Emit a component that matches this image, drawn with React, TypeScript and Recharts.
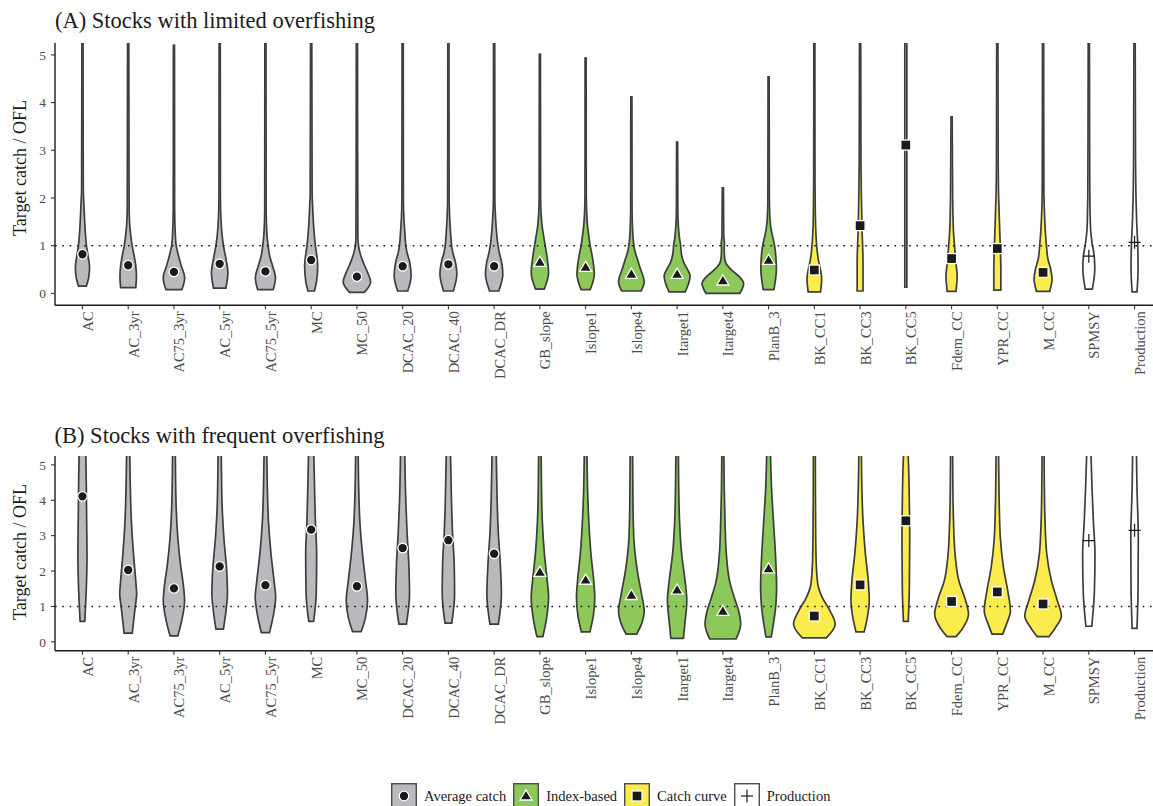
import React from 'react';
import { Area, ComposedChart, ReferenceLine, Scatter, XAxis, YAxis } from 'recharts';

// knot = [target catch / OFL, half width in category units], listed bottom to top
type Knot = [number, number];

const METHODS = [
  'AC', 'AC_3yr', 'AC75_3yr', 'AC_5yr', 'AC75_5yr', 'MC', 'MC_50', 'DCAC_20', 'DCAC_40', 'DCAC_DR',
  'GB_slope', 'Islope1', 'Islope4', 'Itarget1', 'Itarget4', 'PlanB_3',
  'BK_CC1', 'BK_CC3', 'BK_CC5', 'Fdem_CC', 'YPR_CC', 'M_CC',
  'SPMSY', 'Production',
];

const FAMILIES = ['Average catch', 'Index-based', 'Catch curve', 'Production'];
const METHOD_FAMILY = [0, 0, 0, 0, 0, 0, 0, 0, 0, 0, 1, 1, 1, 1, 1, 1, 2, 2, 2, 2, 2, 2, 3, 3];

const Y_TICKS = [0, 1, 2, 3, 4, 5];

const MEDIAN_A = [
  0.82, 0.59, 0.45, 0.62, 0.46, 0.7, 0.35, 0.57, 0.61, 0.57,
  0.65, 0.545, 0.4, 0.4, 0.26, 0.69,
  0.49, 1.42, 3.11, 0.73, 0.94, 0.44,
  0.78, 1.07,
];

const MEDIAN_B = [
  4.11, 2.03, 1.51, 2.13, 1.6, 3.17, 1.57, 2.65, 2.87, 2.49,
  1.96, 1.74, 1.31, 1.46, 0.86, 2.06,
  0.73, 1.61, 3.42, 1.14, 1.41, 1.07,
  2.86, 3.15,
];

const VIOLIN_A: Knot[][] = [
  [[0.15, 0.085], [0.35, 0.14], [0.55, 0.155], [0.8, 0.12], [1.0, 0.088], [1.4, 0.055], [1.8, 0.035], [2.2, 0.018], [6, 0.012]],
  [[0.12, 0.165], [0.35, 0.18], [0.58, 0.165], [0.86, 0.115], [1.0, 0.085], [1.2, 0.058], [1.42, 0.035], [1.8, 0.02], [6, 0.012]],
  [[0.08, 0.175], [0.33, 0.235], [0.58, 0.16], [0.79, 0.1], [1.0, 0.05], [1.28, 0.028], [1.8, 0.015], [5.22, 0.012]],
  [[0.11, 0.135], [0.44, 0.18], [0.72, 0.138], [1.0, 0.082], [1.28, 0.047], [1.56, 0.028], [2.0, 0.016], [6, 0.012]],
  [[0.08, 0.17], [0.33, 0.22], [0.58, 0.155], [0.79, 0.092], [1.0, 0.058], [1.28, 0.03], [1.8, 0.015], [6, 0.012]],
  [[0.05, 0.07], [0.24, 0.117], [0.58, 0.143], [0.79, 0.123], [1.0, 0.092], [1.42, 0.053], [1.77, 0.035], [2.12, 0.021], [6, 0.012]],
  [[0.02, 0.16], [0.24, 0.3], [0.44, 0.233], [0.65, 0.138], [0.86, 0.064], [1.0, 0.035], [1.2, 0.021], [6, 0.012]],
  [[0.05, 0.11], [0.37, 0.185], [0.65, 0.155], [0.86, 0.095], [1.0, 0.07], [1.28, 0.047], [1.56, 0.028], [2.0, 0.016], [6, 0.012]],
  [[0.05, 0.106], [0.4, 0.185], [0.65, 0.155], [0.86, 0.095], [1.0, 0.07], [1.28, 0.047], [1.6, 0.028], [2.0, 0.016], [6, 0.012]],
  [[0.05, 0.1], [0.4, 0.19], [0.65, 0.164], [0.86, 0.111], [1.0, 0.085], [1.28, 0.053], [1.6, 0.03], [2.0, 0.016], [6, 0.012]],
  [[0.09, 0.095], [0.44, 0.19], [0.72, 0.162], [1.0, 0.117], [1.2, 0.082], [1.42, 0.047], [1.64, 0.028], [2.0, 0.016], [5.03, 0.012]],
  [[0.08, 0.1], [0.4, 0.19], [0.72, 0.155], [1.0, 0.1], [1.2, 0.07], [1.42, 0.042], [1.7, 0.023], [2.1, 0.014], [4.95, 0.012]],
  [[0.05, 0.21], [0.24, 0.28], [0.51, 0.2], [0.72, 0.131], [0.9, 0.074], [1.07, 0.047], [1.35, 0.026], [1.8, 0.015], [4.14, 0.012]],
  [[0.03, 0.175], [0.2, 0.25], [0.37, 0.285], [0.51, 0.222], [0.65, 0.143], [0.82, 0.095], [1.0, 0.077], [1.2, 0.047], [1.42, 0.027], [1.8, 0.015], [3.19, 0.012]],
  [[0.0, 0.37], [0.2, 0.455], [0.34, 0.37], [0.44, 0.254], [0.54, 0.138], [0.65, 0.058], [0.79, 0.035], [0.95, 0.03], [1.05, 0.035], [1.2, 0.02], [2.23, 0.012]],
  [[0.08, 0.117], [0.51, 0.17], [0.72, 0.162], [1.0, 0.131], [1.2, 0.085], [1.35, 0.053], [1.56, 0.03], [2.0, 0.016], [4.56, 0.012]],
  [[0.03, 0.135], [0.3, 0.16], [0.51, 0.131], [0.72, 0.085], [1.0, 0.051], [1.35, 0.03], [1.7, 0.021], [2.5, 0.014], [6, 0.012]],
  [[0.05, 0.064], [0.65, 0.064], [1.35, 0.042], [2.05, 0.028], [2.75, 0.019], [6, 0.012]],
  [[0.13, 0.022], [6, 0.022]],
  [[0.04, 0.095], [0.37, 0.123], [0.65, 0.092], [1.0, 0.064], [1.35, 0.039], [2.05, 0.023], [3.72, 0.012]],
  [[0.07, 0.077], [0.51, 0.077], [1.0, 0.064], [1.48, 0.047], [2.05, 0.028], [2.75, 0.019], [6, 0.012]],
  [[0.04, 0.143], [0.3, 0.197], [0.51, 0.166], [0.72, 0.106], [1.0, 0.074], [1.35, 0.047], [1.7, 0.03], [2.2, 0.018], [6, 0.012]],
  [[0.09, 0.077], [0.51, 0.131], [0.79, 0.117], [1.07, 0.07], [1.35, 0.039], [1.7, 0.028], [2.2, 0.021], [6, 0.012]],
  [[0.03, 0.053], [0.51, 0.077], [1.0, 0.07], [1.48, 0.047], [2.05, 0.03], [2.75, 0.021], [6, 0.012]],
];

const VIOLIN_B: Knot[][] = [
  [[0.58, 0.051], [1.53, 0.085], [2.47, 0.1], [3.41, 0.092], [4.35, 0.085], [5.29, 0.074], [7, 0.06]],
  [[0.245, 0.089], [1.0, 0.155], [1.35, 0.185], [1.71, 0.166], [2.47, 0.117], [3.41, 0.07], [4.35, 0.047], [5.29, 0.035], [7, 0.025]],
  [[0.17, 0.085], [0.6, 0.17], [1.16, 0.233], [1.53, 0.212], [2.19, 0.143], [2.94, 0.085], [3.88, 0.047], [5.29, 0.03], [7, 0.02]],
  [[0.36, 0.082], [0.9, 0.14], [1.35, 0.17], [1.98, 0.155], [2.94, 0.092], [3.88, 0.053], [5.29, 0.035], [7, 0.025]],
  [[0.26, 0.089], [0.8, 0.18], [1.25, 0.223], [1.71, 0.19], [2.47, 0.123], [3.41, 0.066], [4.35, 0.042], [5.29, 0.03], [7, 0.02]],
  [[0.58, 0.053], [1.35, 0.111], [2.47, 0.12], [3.41, 0.092], [4.35, 0.074], [5.29, 0.058], [7, 0.04]],
  [[0.29, 0.095], [0.7, 0.19], [1.16, 0.233], [1.71, 0.19], [2.47, 0.123], [3.41, 0.064], [4.35, 0.039], [5.29, 0.028], [7, 0.02]],
  [[0.5, 0.082], [1.35, 0.15], [2.19, 0.135], [3.13, 0.095], [4.07, 0.066], [5.29, 0.047], [7, 0.03]],
  [[0.53, 0.074], [1.35, 0.135], [2.19, 0.127], [3.13, 0.089], [4.07, 0.066], [5.29, 0.047], [7, 0.03]],
  [[0.5, 0.092], [1.35, 0.159], [2.19, 0.135], [3.13, 0.089], [4.07, 0.064], [5.29, 0.047], [7, 0.03]],
  [[0.15, 0.066], [0.7, 0.15], [1.25, 0.19], [1.71, 0.162], [2.47, 0.1], [3.41, 0.053], [4.35, 0.035], [5.29, 0.028], [7, 0.02]],
  [[0.28, 0.092], [0.75, 0.17], [1.25, 0.2], [1.71, 0.178], [2.47, 0.117], [3.41, 0.07], [4.35, 0.042], [5.29, 0.03], [7, 0.02]],
  [[0.22, 0.117], [0.5, 0.22], [0.87, 0.28], [1.35, 0.222], [2.0, 0.131], [2.94, 0.053], [3.88, 0.035], [5.29, 0.028], [7, 0.02]],
  [[0.1, 0.138], [0.59, 0.175], [1.16, 0.212], [1.71, 0.175], [2.47, 0.1], [3.41, 0.053], [4.35, 0.035], [5.29, 0.028], [7, 0.02]],
  [[0.08, 0.286], [0.5, 0.39], [0.87, 0.345], [1.25, 0.25], [1.71, 0.148], [2.47, 0.077], [3.41, 0.047], [4.35, 0.03], [5.29, 0.023], [7, 0.018]],
  [[0.14, 0.058], [1.06, 0.159], [1.53, 0.175], [2.47, 0.15], [3.41, 0.106], [4.35, 0.064], [5.29, 0.042], [7, 0.025]],
  [[0.11, 0.26], [0.5, 0.455], [0.87, 0.345], [1.25, 0.175], [1.62, 0.077], [2.19, 0.042], [2.94, 0.03], [4.35, 0.023], [7, 0.018]],
  [[0.28, 0.089], [0.7, 0.16], [1.16, 0.2], [1.71, 0.18], [2.47, 0.117], [3.41, 0.064], [4.35, 0.039], [5.29, 0.028], [7, 0.02]],
  [[0.58, 0.053], [1.53, 0.077], [2.94, 0.085], [3.88, 0.077], [4.82, 0.064], [5.29, 0.051], [7, 0.035]],
  [[0.15, 0.1], [0.4, 0.25], [0.78, 0.37], [1.25, 0.286], [1.71, 0.162], [2.47, 0.077], [3.41, 0.042], [4.35, 0.028], [5.29, 0.023], [7, 0.018]],
  [[0.22, 0.117], [0.5, 0.2], [0.87, 0.286], [1.44, 0.228], [2.1, 0.135], [2.94, 0.066], [3.88, 0.042], [5.29, 0.028], [7, 0.02]],
  [[0.15, 0.131], [0.4, 0.27], [0.73, 0.4], [1.16, 0.313], [1.71, 0.185], [2.47, 0.082], [3.41, 0.042], [4.35, 0.028], [5.29, 0.023], [7, 0.018]],
  [[0.44, 0.064], [1.35, 0.12], [2.47, 0.135], [3.41, 0.1], [4.35, 0.07], [5.29, 0.047], [7, 0.03]],
  [[0.38, 0.053], [1.53, 0.077], [2.94, 0.082], [4.35, 0.053], [5.29, 0.042], [7, 0.03]],
];

const SERIF = '"Liberation Serif", "Times New Roman", serif';
const FAMILY_FILL = ['#b9babe', '#8cc85a', '#f9ec4c', '#ffffff'];
const OUTLINE = '#3d3d3d';
const OUTLINE_WIDTH = 1.7;
const INK = '#1a1a1a';
const CHART_WIDTH = 1162;

const Marker = ({ cx, cy, family }: { cx: number; cy: number; family: number }) => {
  if (family === 0) {
    return <circle cx={cx} cy={cy} r={4.8} fill={INK} stroke="#fff" strokeWidth={1.3} />;
  }
  if (family === 1) {
    return (
      <path
        d={`M${cx},${cy - 6.2}L${cx + 6},${cy + 4}L${cx - 6},${cy + 4}Z`}
        fill={INK}
        stroke="#fff"
        strokeWidth={1.3}
      />
    );
  }
  if (family === 2) {
    return <rect x={cx - 5} y={cy - 5} width={10} height={10} fill={INK} stroke="#fff" strokeWidth={1.3} />;
  }
  return (
    <g stroke={INK} strokeWidth={1.2}>
      <line x1={cx - 6} y1={cy} x2={cx + 6} y2={cy} />
      <line x1={cx} y1={cy - 6.5} x2={cx} y2={cy + 6.5} />
    </g>
  );
};

const MethodTick = (props: any) => {
  const { x, y, payload } = props;
  return (
    <text
      transform={`translate(${x + 10.5},${y}) rotate(-90)`}
      textAnchor="end"
      fontFamily={SERIF}
      fontSize={14.5}
      fill="#4d4d4d"
    >
      {METHODS[payload.value]}
    </text>
  );
};

interface PanelProps {
  violins: Knot[][];
  medians: number[];
  height: number;
  plotTop: number;
  plotHeight: number;
}

const ViolinPanel = ({ violins, medians, height, plotTop, plotHeight }: PanelProps) => (
  <ComposedChart
    layout="vertical"
    width={CHART_WIDTH}
    height={height}
    margin={{ top: plotTop, right: 0, bottom: 0, left: 0 }}
  >
    <XAxis
      type="number"
      dataKey="x"
      domain={[-0.6, 23.6]}
      allowDataOverflow
      ticks={METHODS.map((_, i) => i)}
      interval={0}
      height={height - plotTop - plotHeight}
      tickSize={4}
      tickMargin={2}
      tick={(p: any) => <MethodTick {...p} />}
      axisLine={{ stroke: INK, strokeWidth: 1.4 }}
      tickLine={{ stroke: '#333', strokeWidth: 1.1 }}
    />
    <YAxis
      type="number"
      dataKey="v"
      domain={[-0.25, 5.25]}
      allowDataOverflow
      reversed
      ticks={Y_TICKS}
      interval={0}
      width={55}
      tickSize={4}
      tickMargin={5}
      tick={{ fill: '#4d4d4d', fontSize: 13.5, fontFamily: SERIF }}
      axisLine={{ stroke: INK, strokeWidth: 1.4 }}
      tickLine={{ stroke: '#333', strokeWidth: 1.1 }}
    />
    {violins.map((knots, i) => (
      <Area
        key={`violin-${METHODS[i]}`}
        data={knots.map(([v, hw]) => ({ v, w: [i - hw, i + hw] }))}
        dataKey="w"
        type="monotone"
        fill={FAMILY_FILL[METHOD_FAMILY[i]]}
        fillOpacity={1}
        stroke={OUTLINE}
        strokeWidth={OUTLINE_WIDTH}
        strokeLinejoin="round"
        dot={false}
        activeDot={false}
        isAnimationActive={false}
      />
    ))}
    {violins.map((knots, i) => (
      <ReferenceLine
        key={`base-${METHODS[i]}`}
        segment={[
          { x: i - knots[0][1], y: knots[0][0] },
          { x: i + knots[0][1], y: knots[0][0] },
        ]}
        stroke={OUTLINE}
        strokeWidth={OUTLINE_WIDTH}
        strokeLinecap="round"
      />
    ))}
    <ReferenceLine y={1} stroke={INK} strokeWidth={1.6} strokeDasharray="1.6 5.7" />
    {FAMILIES.map((name, f) => (
      <Scatter
        key={name}
        data={medians
          .map((v, i) => ({ x: i, v }))
          .filter((d) => METHOD_FAMILY[d.x] === f)}
        shape={(p: any) => <Marker cx={p.cx} cy={p.cy} family={f} />}
        isAnimationActive={false}
      />
    ))}
  </ComposedChart>
);

const LegendRow = () => (
  <div
    style={{
      position: 'absolute',
      left: 391,
      top: 783,
      display: 'flex',
      alignItems: 'center',
      fontFamily: SERIF,
      fontSize: 14.5,
      color: INK,
    }}
  >
    {FAMILIES.map((name, f) => (
      <div key={name} style={{ display: 'flex', alignItems: 'center', marginRight: 7 }}>
        <svg width={26} height={26}>
          <rect x={0.7} y={0.7} width={24.6} height={24.6} fill={FAMILY_FILL[f]} stroke="#4d4d4d" strokeWidth={1.4} />
          <Marker cx={13} cy={13} family={f} />
        </svg>
        <span style={{ marginLeft: 7 }}>{name}</span>
      </div>
    ))}
  </div>
);

export default function App() {
  return (
    <div
      style={{
        position: 'absolute',
        left: 0,
        top: 0,
        width: 1153,
        height: 806,
        overflow: 'hidden',
        background: '#fff',
      }}
    >
      <div style={{ position: 'absolute', left: 0, top: 0 }}>
        <ViolinPanel violins={VIOLIN_A} medians={MEDIAN_A} height={420} plotTop={43} plotHeight={262.3} />
      </div>
      <div style={{ position: 'absolute', left: 0, top: 420 }}>
        <ViolinPanel violins={VIOLIN_B} medians={MEDIAN_B} height={386} plotTop={36} plotHeight={194.7} />
      </div>
      <svg
        width={1153}
        height={806}
        style={{ position: 'absolute', left: 0, top: 0, pointerEvents: 'none' }}
        fontFamily={SERIF}
      >
        <text x={55} y={28.3} fontSize={22.5} fill={INK}>
          (A) Stocks with limited overfishing
        </text>
        <text x={54.5} y={443.3} fontSize={22.5} fill={INK}>
          (B) Stocks with frequent overfishing
        </text>
        <text transform="translate(26,168) rotate(-90)" textAnchor="middle" fontSize={18} fill={INK}>
          Target catch / OFL
        </text>
        <text transform="translate(26,552) rotate(-90)" textAnchor="middle" fontSize={18} fill={INK}>
          Target catch / OFL
        </text>
      </svg>
      <LegendRow />
    </div>
  );
}
